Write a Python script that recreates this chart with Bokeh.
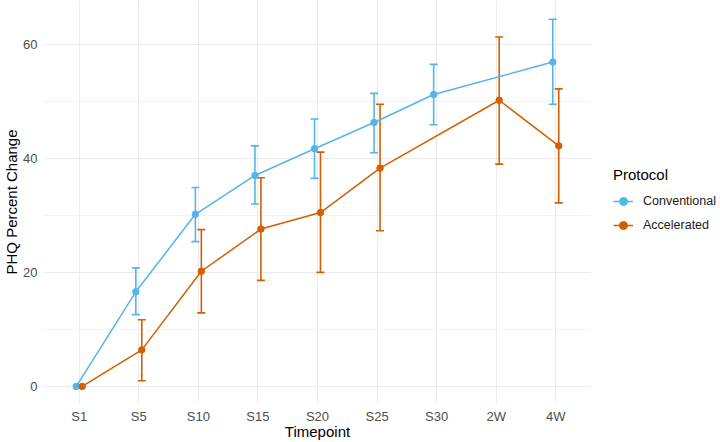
from bokeh.plotting import figure
from bokeh.layouts import row
from bokeh.models import (FactorRange, Range1d, FixedTicker, Legend, LegendItem,
                          Whisker, ColumnDataSource, TeeHead)
from bokeh.transform import dodge
from bokeh.embed import file_html
from bokeh.resources import INLINE

timepoints = ["S1", "S5", "S10", "S15", "S20", "S25", "S30", "2W", "4W"]

conv_tp = ["S1", "S5", "S10", "S15", "S20", "S25", "S30", "4W"]
conv_mean = [0, 16.6, 30.2, 37.0, 41.7, 46.3, 51.2, 56.9]
conv_lower = [0, 12.6, 25.4, 32.0, 36.5, 41.0, 45.9, 49.5]
conv_upper = [0, 20.8, 34.9, 42.2, 46.9, 51.4, 56.5, 64.4]

acc_tp = ["S1", "S5", "S10", "S15", "S20", "S25", "2W", "4W"]
acc_mean = [0, 6.4, 20.2, 27.6, 30.5, 38.3, 50.2, 42.2]
acc_lower = [0, 1.0, 12.9, 18.6, 20.0, 27.3, 39.0, 32.2]
acc_upper = [0, 11.7, 27.5, 36.6, 41.1, 49.5, 61.3, 52.2]

y_ticks = [0, 20, 40, 60]
y_minor = [10, 30, 50]

BLUE = "#56B4E9"
ORANGE = "#D55E00"
FONT = "Liberation Sans"
NAN = float("nan")

p = figure(width=591, height=442, output_backend="svg", toolbar_location=None,
           x_range=FactorRange(factors=timepoints, range_padding=0.1,
                               range_padding_units="absolute"),
           y_range=Range1d(-3.0, 67.7),
           min_border_left=0, min_border_right=0, min_border_top=0, min_border_bottom=0)
p.outline_line_color = None
p.background_fill_color = "white"
p.border_fill_color = "white"

# grid
p.xgrid.grid_line_color = "#ebebeb"
p.xgrid.grid_line_width = 1.1
p.ygrid.grid_line_color = "#ebebeb"
p.ygrid.grid_line_width = 1.1
p.ygrid.minor_grid_line_color = "#f0f0f0"
p.ygrid.minor_grid_line_width = 0.8
p.yaxis.ticker = FixedTicker(ticks=y_ticks, minor_ticks=y_minor)

for ax in (p.xaxis[0], p.yaxis[0]):
    ax.axis_line_color = None
    ax.major_tick_line_color = None
    ax.minor_tick_line_color = None
    ax.major_tick_out = 0
    ax.minor_tick_out = 0
    ax.major_tick_in = 0
    ax.minor_tick_in = 0
    ax.major_label_text_font = FONT
    ax.major_label_text_font_size = "13px"
    ax.major_label_text_color = "#4d4d4d"
    ax.axis_label_text_font = FONT
    ax.axis_label_text_font_size = "15px"
    ax.axis_label_text_font_style = "normal"
    ax.axis_label_text_color = "#000000"

p.xaxis.axis_label = "Timepoint"
p.yaxis.axis_label = "PHQ Percent Change"
p.xaxis.major_label_standoff = 5
p.xaxis.axis_label_standoff = -4
p.yaxis.major_label_standoff = 6
p.yaxis.axis_label_standoff = 0

styles = {}
for name, tps, mean, lower, upper, color, off in [
    ("Conventional", conv_tp, conv_mean, conv_lower, conv_upper, BLUE, -0.05),
    ("Accelerated", acc_tp, acc_mean, acc_lower, acc_upper, ORANGE, 0.05),
]:
    src = ColumnDataSource(dict(tp=tps, mean=mean, lower=lower, upper=upper))
    xs = dodge("tp", off, range=p.x_range)
    p.line(x=xs, y="mean", source=src, line_color=color, line_width=1.5)
    keep = [i for i in range(len(tps)) if upper[i] > lower[i]]
    esrc = ColumnDataSource(dict(tp=[tps[i] for i in keep],
                                 lower=[lower[i] for i in keep],
                                 upper=[upper[i] for i in keep]))
    w = Whisker(base=dodge("tp", off, range=p.x_range), lower="lower", upper="upper",
                source=esrc, dimension="height", line_color=color, line_width=1.6,
                upper_head=TeeHead(size=8, line_color=color, line_width=1.6),
                lower_head=TeeHead(size=8, line_color=color, line_width=1.6))
    p.add_layout(w)
    p.scatter(x=xs, y="mean", source=src, size=6.5, fill_color=color, line_color=color)
    styles[name] = color

# legend panel (separate figure to the right of the plot)
lf = figure(width=129, height=442, output_backend="svg", toolbar_location=None,
            x_range=Range1d(0, 1), y_range=Range1d(0, 1),
            x_axis_location=None, y_axis_location=None,
            min_border_left=0, min_border_right=0, min_border_top=0, min_border_bottom=0)
lf.grid.visible = False
lf.outline_line_color = None
lf.background_fill_color = "white"
lf.border_fill_color = "white"

items = []
for name in ["Conventional", "Accelerated"]:
    color = styles[name]
    # legend proxies: NaN data, nothing is drawn in the panel itself
    l = lf.line(x=[NAN, NAN], y=[NAN, NAN], line_color=color, line_width=1.5)
    s = lf.scatter(x=[NAN], y=[NAN], size=6.5, fill_color=color, line_color=color)
    items.append(LegendItem(label=name, renderers=[l, s]))

legend = Legend(items=items, title="Protocol", location=(22, 168))
legend.title_text_font = FONT
legend.title_text_font_size = "15px"
legend.title_text_font_style = "normal"
legend.title_text_color = "#000000"
legend.title_standoff = 8
legend.label_text_font = FONT
legend.label_text_font_size = "12.5px"
legend.label_text_color = "#1a1a1a"
legend.glyph_width = 20
legend.glyph_height = 20
legend.label_standoff = 10
legend.spacing = 4
legend.padding = 6
legend.margin = 0
legend.border_line_color = None
legend.background_fill_alpha = 0
lf.add_layout(legend, "center")

layout = row(p, lf, spacing=0)
open("out.html", "w").write(file_html(layout, INLINE))
